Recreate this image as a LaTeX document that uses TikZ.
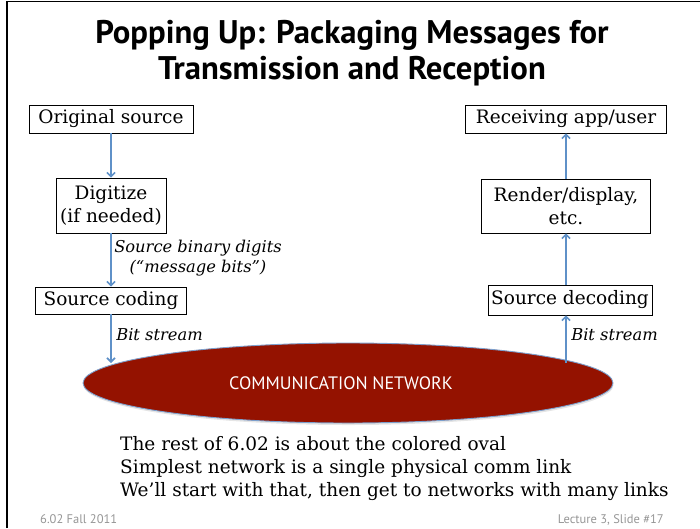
\documentclass[tikz,border=0pt]{standalone}
\usepackage{fontspec}
\setmainfont{DejaVu Serif}
\newfontfamily\titlefont{PT Sans}
\newfontfamily\slidesans{PT Sans}
\usetikzlibrary{arrows.meta,shapes.geometric}
\definecolor{arrowblue}{RGB}{95,145,200}
\definecolor{netred}{RGB}{148,18,0}
\definecolor{netedge}{RGB}{125,160,205}
\definecolor{footgray}{RGB}{150,150,150}

\begin{document}
\begin{tikzpicture}[x=1pt,y=-1pt,
  stagebox/.style={draw=black, line width=0.8pt, align=center, inner sep=0pt,
    font=\fontsize{18.5}{22.5}\selectfont},
  arr/.style={draw=arrowblue, line width=1.6pt, -{Straight Barb[length=4pt,width=8pt]}},
  note/.style={font=\fontsize{16.3}{20}\selectfont\itshape, align=center, inner sep=0pt},
  bodyline/.style={anchor=base west, inner sep=0pt, font=\fontsize{18.5}{22}\selectfont},
  titleline/.style={anchor=base, inner sep=0pt, font=\titlefont\bfseries\fontsize{32.7}{36}\selectfont},
  footer/.style={inner sep=0pt, text=footgray, font=\slidesans\fontsize{12.5}{14}\selectfont},
  nettext/.style={inner sep=0pt, text=white, font=\slidesans\fontsize{18}{20}\selectfont}
]
\useasboundingbox (0,0) rectangle (700,528);

% slide frame
\draw[line width=1.2pt] (7,528) -- (7,1.5) -- (700,1.5);

% title
\node[titleline] (title1) at (352,43) {Popping Up: Packaging Messages for};
\node[titleline] (title2) at (352,79) {Transmission and Reception};

% the network oval with its soft shadow
\fill[black!10] (348.5,385) ellipse [x radius=265, y radius=40];
\node[ellipse, fill=netred, draw=netedge, line width=0.9pt, minimum width=530pt,
      minimum height=80pt, inner sep=0pt] (net) at (348,383) {};
\node[nettext] (netlabel) at (341,383) {COMMUNICATION NETWORK};

% sending side
\node[stagebox, minimum width=164pt, minimum height=28pt] (orig) at (111,119) {Original source};
\node[stagebox, minimum width=110pt, minimum height=55pt] (dig) at (111,205.5) {Digitize\\(if needed)};
\node[stagebox, minimum width=151pt, minimum height=27pt] (scod) at (111,300.5) {Source coding};

% receiving side
\node[stagebox, minimum width=201pt, minimum height=28pt] (recv) at (566,119) {Receiving app/user};
\node[stagebox, minimum width=169pt, minimum height=54pt] (rend) at (566,206) {Render/display,\\etc.};
\node[stagebox, minimum width=164pt, minimum height=30pt] (sdec) at (570,300) {Source decoding};

% where the streams meet the network
\coordinate (inL) at (111,363);
\coordinate (outR) at (566,363);

% connectors
\draw[arr] (orig) -- (dig);
\draw[arr] (dig) -- (scod);
\draw[arr] (scod) -- (inL);
\draw[arr] (outR) -- (sdec.south -| outR);
\draw[arr] (sdec.north -| outR) -- (rend);
\draw[arr] (rend) -- (recv);

% connector labels
\node[note] (bitslabel) at (198,258) {Source binary digits\\(“message bits”)};
\node[note] (streamL) at (159.5,335) {Bit stream};
\node[note] (streamR) at (614.5,335) {Bit stream};

% remarks
\node[bodyline] (body1) at (120,450) {The rest of 6.02 is about the colored oval};
\node[bodyline] (body2) at (120,473) {Simplest network is a single physical comm link};
\node[bodyline] (body3) at (120,496) {We’ll start with that, then get to networks with many links};

% footer
\node[footer, anchor=base west] (foot1) at (40,523) {6.02 Fall 2011};
\node[footer, anchor=base east] (foot2) at (664,523) {Lecture 3, Slide \#17};
\end{tikzpicture}
\end{document}
